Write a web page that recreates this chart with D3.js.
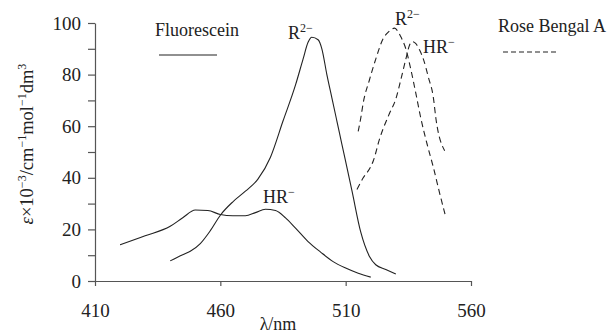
<!DOCTYPE html>
<html>
<head>
<meta charset="utf-8">
<script src="https://cdn.jsdelivr.net/npm/d3@7"></script>
<style>
  body { margin: 0; background: #fff; }
  svg text { font-family: "Liberation Serif", "Times New Roman", serif !important; fill: #222; }
</style>
</head>
<body>
<figure id="chart" style="margin:0"></figure>
<script>
// absorption spectra, [wavelength nm, epsilon x10^-3]
const fluoHR = [
  [420, 14], [430, 17.5], [440, 21.2], [445, 24.5], [450, 27.5], [455, 27.3],
  [460, 25.8], [465, 25.3], [470, 25.3], [474, 26.5], [478, 27.8], [482, 27.3],
  [486, 24.5], [490, 20.5], [495, 15.3], [500, 11.2], [505, 7.5], [510, 5.0],
  [515, 3.0], [520, 1.5]
];
const fluoR2 = [
  [440, 7.8], [445, 10.2], [448, 11.5], [452, 14.5], [456, 19.5], [460, 25.5],
  [465, 30.7], [470, 34.8], [475, 39.5], [480, 48], [485, 62], [490, 76],
  [493, 86], [495, 92.5], [496.5, 94.5], [499, 93.5], [500.5, 90],
  [502.5, 80], [504.5, 71], [506.5, 62], [508.5, 53], [512.5, 35], [516, 19],
  [519.5, 9.5], [522, 6.3], [526, 4.5], [530, 2.7]
];
const roseR2 = [
  [515, 58], [516, 63], [517, 69], [519.5, 78], [522, 86], [525, 94],
  [527, 96.5], [529.5, 98], [531, 96.5], [532, 94.7], [534, 90], [536, 82],
  [538, 72.7], [540, 63], [542.5, 53], [545, 44], [547.5, 34], [550, 24.5]
];
const roseHR = [
  [514.5, 35.5], [517, 40], [520, 44.3], [521, 46.5], [523.5, 55], [527.5, 65],
  [530, 70.5], [532, 78], [534, 86], [535.5, 91.5], [536.5, 92.8], [538, 92],
  [539.5, 89.5], [541, 86], [543, 79], [545, 71], [546, 63], [549.5, 50.5]
];
const xTicks = [410, 460, 510, 560];
const yTicks = [0, 10, 20, 30, 40, 50, 60, 70, 80, 90, 100];

const width = 613, height = 333;
const x = d3.scaleLinear().domain([410, 560]).range([95, 471]);
const y = d3.scaleLinear().domain([0, 100]).range([281, 23]);

const svg = d3.select("figure#chart")
  .append("svg")
  .attr("width", width)
  .attr("height", height);

svg.append("g")
  .attr("transform", `translate(${x(410)},0)`)
  .call(d3.axisLeft(y).tickValues(yTicks)
    .tickFormat(d => d % 20 === 0 ? d : "")
    .tickSize(7).tickSizeOuter(0).tickPadding(7));

svg.append("g")
  .attr("transform", `translate(0,${y(0)})`)
  .call(d3.axisBottom(x).tickValues(xTicks)
    .tickSize(5).tickSizeOuter(0).tickPadding(18));

svg.selectAll(".domain, .tick line").attr("stroke", "#555").attr("stroke-width", 1.2);
svg.selectAll(".tick text").attr("font-size", 19);

// axis titles
svg.append("text")
  .attr("x", 278).attr("y", 330)
  .attr("text-anchor", "middle").attr("font-size", 18)
  .text("λ/nm");

const yl = svg.append("text")
  .attr("transform", `translate(33,144)rotate(-90)`)
  .attr("text-anchor", "middle").attr("font-size", 18.5);
yl.append("tspan").attr("font-style", "italic").text("ε");
yl.append("tspan").text("×10");
yl.append("tspan").attr("font-size", 12).attr("dy", -7).text("−3");
yl.append("tspan").attr("dy", 7).text("/cm");
yl.append("tspan").attr("font-size", 12).attr("dy", -7).text("−1");
yl.append("tspan").attr("dy", 7).text("mol");
yl.append("tspan").attr("font-size", 12).attr("dy", -7).text("−1");
yl.append("tspan").attr("dy", 7).text("dm");
yl.append("tspan").attr("font-size", 12).attr("dy", -7).text("3");

// curves
const line = d3.line()
  .x(d => x(d[0]))
  .y(d => y(d[1]))
  .curve(d3.curveMonotoneX);

const series = [
  { data: fluoHR, dash: null },
  { data: fluoR2, dash: null },
  { data: roseR2, dash: "6,4" },
  { data: roseHR, dash: "6,4" }
];

svg.append("g")
  .attr("fill", "none")
  .attr("stroke", "#222")
  .attr("stroke-width", 1.1)
  .selectAll("path")
  .data(series)
  .join("path")
  .attr("stroke-dasharray", d => d.dash)
  .attr("d", d => line(d.data));

// species labels
function label(px, py, base, sup) {
  const t = svg.append("text").attr("x", px).attr("y", py).attr("font-size", 18);
  t.append("tspan").text(base);
  t.append("tspan").attr("font-size", 12).attr("dy", -7).text(sup);
}
label(288, 39, "R", "2−");
label(263, 203, "HR", "−");
label(395, 25, "R", "2−");
label(423, 53, "HR", "−");

// legend
svg.append("text").attr("x", 155).attr("y", 36).attr("font-size", 18).text("Fluorescein");
svg.append("line")
  .attr("x1", 159).attr("x2", 217).attr("y1", 55).attr("y2", 55)
  .attr("stroke", "#222").attr("stroke-width", 1.1);

svg.append("text").attr("x", 498).attr("y", 32).attr("font-size", 18).text("Rose Bengal A");
svg.append("line")
  .attr("x1", 503).attr("x2", 558).attr("y1", 52).attr("y2", 52)
  .attr("stroke", "#222").attr("stroke-width", 1.1)
  .attr("stroke-dasharray", "5,3");
</script>
</body>
</html>
